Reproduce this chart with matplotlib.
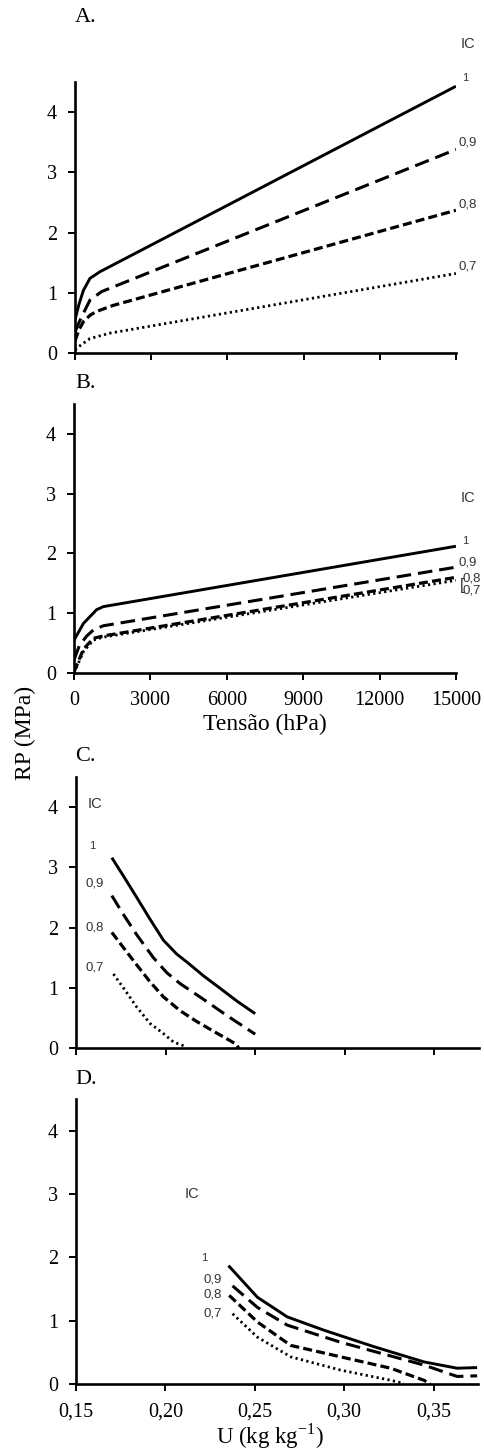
import matplotlib
matplotlib.use('Agg')
import matplotlib.pyplot as plt
from matplotlib.ticker import FuncFormatter

# --- curve values (RP in MPa) ---
ic_names = ['1', '0,9', '0,8', '0,7']

# A. RP x tensão (hPa)
tensao_a = [
    [0, 150, 330, 590, 985, 15000],
    [0, 150, 330, 590, 1050, 15000],
    [0, 150, 330, 600, 850, 1500, 15000],
    [0, 130, 590, 1380, 15000],
]
rp_a = [
    [0.55, 0.80, 1.04, 1.24, 1.35, 4.43],
    [0.35, 0.50, 0.66, 0.88, 1.02, 3.38],
    [0.20, 0.38, 0.52, 0.63, 0.69, 0.79, 2.37],
    [0.05, 0.10, 0.24, 0.33, 1.32],
]

# B. RP x tensão (hPa)
tensao_b = [
    [0, 370, 890, 1150, 15000],
    [0, 200, 500, 760, 1150, 15000],
    [0, 370, 760, 1150, 15000],
    [0, 370, 760, 1150, 15000],
]
rp_b = [
    [0.55, 0.83, 1.06, 1.11, 2.12],
    [0.22, 0.45, 0.62, 0.72, 0.79, 1.77],
    [0.02, 0.40, 0.58, 0.62, 1.60],
    [0.00, 0.36, 0.55, 0.60, 1.55],
]

# C. RP x umidade (kg/kg)
umid_c = [
    [0.170, 0.1764, 0.1839, 0.1913, 0.1988, 0.2062, 0.2118, 0.2211, 0.2305, 0.2398, 0.250],
    [0.170, 0.1764, 0.1839, 0.1932, 0.2007, 0.2081, 0.2211, 0.2342, 0.250],
    [0.170, 0.1764, 0.1839, 0.1913, 0.1988, 0.2081, 0.2174, 0.2267, 0.2397, 0.2407],
    [0.1709, 0.1774, 0.1839, 0.1913, 0.1988, 0.2044, 0.2118],
]
rp_c = [
    [3.16, 2.86, 2.50, 2.14, 1.79, 1.56, 1.43, 1.20, 0.99, 0.78, 0.57],
    [2.53, 2.22, 1.88, 1.50, 1.25, 1.07, 0.81, 0.54, 0.23],
    [1.92, 1.67, 1.38, 1.10, 0.85, 0.62, 0.44, 0.28, 0.06, 0.00],
    [1.23, 0.96, 0.68, 0.41, 0.24, 0.10, 0.02],
]

# D. RP x umidade (kg/kg)
umid_d = [
    [0.2353, 0.2515, 0.2682, 0.2887, 0.3167, 0.3446, 0.3632, 0.3744],
    [0.2376, 0.2515, 0.2682, 0.2980, 0.3446, 0.3632, 0.3744],
    [0.2357, 0.2515, 0.2701, 0.2980, 0.3260, 0.3446, 0.3483],
    [0.2376, 0.2515, 0.2701, 0.2980, 0.3260, 0.3334],
]
rp_d = [
    [1.87, 1.37, 1.06, 0.85, 0.59, 0.35, 0.25, 0.26],
    [1.55, 1.21, 0.93, 0.66, 0.30, 0.12, 0.13],
    [1.40, 0.98, 0.61, 0.43, 0.25, 0.06, 0.00],
    [1.11, 0.74, 0.43, 0.22, 0.06, 0.01],
]

tensao_ticks = [0, 3000, 6000, 9000, 12000, 15000]
umid_ticks = [0.15, 0.20, 0.25, 0.30, 0.35]
rp_ticks = [0, 1, 2, 3, 4]

SERIF = 'Liberation Serif'
SANS = 'Liberation Sans'

# line style per IC (solid, long dash, short dash, dots)
line_styles = [
    dict(ls='-', lw=2.1),
    dict(ls=(0, (10.5, 5)), lw=2.2),
    dict(ls=(0, (6.5, 3)), lw=2.3),
    dict(ls=(0, (1.6, 2.4)), lw=2.0),
]


def style_axes(ax, xlim, xticks, show_xlabels, fmt=None):
    ax.set_xlim(*xlim)
    ax.set_ylim(0, 4.5)
    ax.set_xticks(xticks)
    ax.set_yticks(rp_ticks)
    for side in ['top', 'right']:
        ax.spines[side].set_visible(False)
    for side in ['left', 'bottom']:
        ax.spines[side].set_linewidth(1.9)
    ax.tick_params(direction='out', length=5, width=1.4, pad=8, labelsize=14.5)
    if fmt is not None:
        ax.xaxis.set_major_formatter(FuncFormatter(fmt))
    if not show_xlabels:
        ax.set_xticklabels([])
    for lab in ax.get_xticklabels() + ax.get_yticklabels():
        lab.set_fontfamily(SERIF)


def draw_curves(ax, xs, ys):
    for x, y, st in zip(xs, ys, line_styles):
        ax.plot(x, y, color='black', solid_capstyle='butt', dash_capstyle='butt',
                linestyle=st['ls'], linewidth=st['lw'], solid_joinstyle='round')


def ic_text(ax, x, y, s, size=9.5):
    ax.text(x, y, s, fontsize=size, family=SANS, color='#333333',
            ha='center', va='center', clip_on=False)


def main():
    plt.rcParams['lines.scale_dashes'] = False
    fig = plt.figure(figsize=(4.84, 14.52), dpi=100)

    ax_a = fig.add_axes([0.155, 0.7569, 0.787, 0.1866])
    ax_b = fig.add_axes([0.153, 0.5365, 0.789, 0.1853])
    ax_c = fig.add_axes([0.157, 0.2782, 0.833, 0.1867])
    ax_d = fig.add_axes([0.157, 0.0468, 0.831, 0.1963])

    virgula = lambda v, pos: ('%.2f' % v).replace('.', ',')

    # --- A ---
    draw_curves(ax_a, tensao_a, rp_a)
    style_axes(ax_a, (0, 15000), tensao_ticks, False)
    ic_text(ax_a, 15470, 5.14, 'IC', 10.5)
    for s, y in zip(ic_names, [4.56, 3.50, 2.47, 1.43]):
        ic_text(ax_a, 15470 if s != '1' else 15380, y, s, 9.5 if s != '1' else 8)

    # --- B ---
    draw_curves(ax_b, tensao_b, rp_b)
    style_axes(ax_b, (0, 15000), tensao_ticks, True)
    ax_b.set_xlabel('Tensão (hPa)', fontsize=17, family=SERIF, labelpad=3)
    ic_text(ax_b, 15470, 2.92, 'IC', 10.5)
    ic_text(ax_b, 15350, 2.20, '1', 8)
    ic_text(ax_b, 15470, 1.85, '0,9')
    ic_text(ax_b, 15600, 1.58, '0,8')
    ic_text(ax_b, 15600, 1.38, '0,7')
    ax_b.text(15230, 1.47, '[', fontsize=12, family=SANS, color='#333333',
              ha='center', va='center', clip_on=False)

    # --- C ---
    draw_curves(ax_c, umid_c, rp_c)
    style_axes(ax_c, (0.15, 0.375), umid_ticks, False)
    ic_text(ax_c, 0.1606, 4.05, 'IC', 10.5)
    ic_text(ax_c, 0.1590, 3.36, '1', 8)
    for s, y in zip(ic_names[1:], [2.73, 2.00, 1.34]):
        ic_text(ax_c, 0.1606, y, s)

    # --- D ---
    draw_curves(ax_d, umid_d, rp_d)
    style_axes(ax_d, (0.15, 0.375), umid_ticks, True, virgula)
    ic_text(ax_d, 0.2148, 3.00, 'IC', 10.5)
    ic_text(ax_d, 0.2220, 1.99, '1', 8)
    for s, y in zip(ic_names[1:], [1.65, 1.41, 1.11]):
        ic_text(ax_d, 0.2262, y, s)
    fig.text(270 / 484, 1 / 1452, 'U (kg kg$^{\\mathregular{-1}}$)', fontsize=16.5,
             family=SERIF, ha='center', va='bottom')

    # panel letters and shared y label
    for letter, ypx in zip(['A.', 'B.', 'C.', 'D.'], [18, 384, 756, 1079]):
        fig.text(75 / 484, 1 - ypx / 1452, letter, fontsize=16, family=SERIF,
                 ha='left', va='center')
    fig.text(25 / 484, 0.495, 'RP (MPa)', fontsize=17, family=SERIF,
             rotation=90, ha='center', va='center')

    fig.savefig('out.png', dpi=100)


if __name__ == "__main__":
    main()
